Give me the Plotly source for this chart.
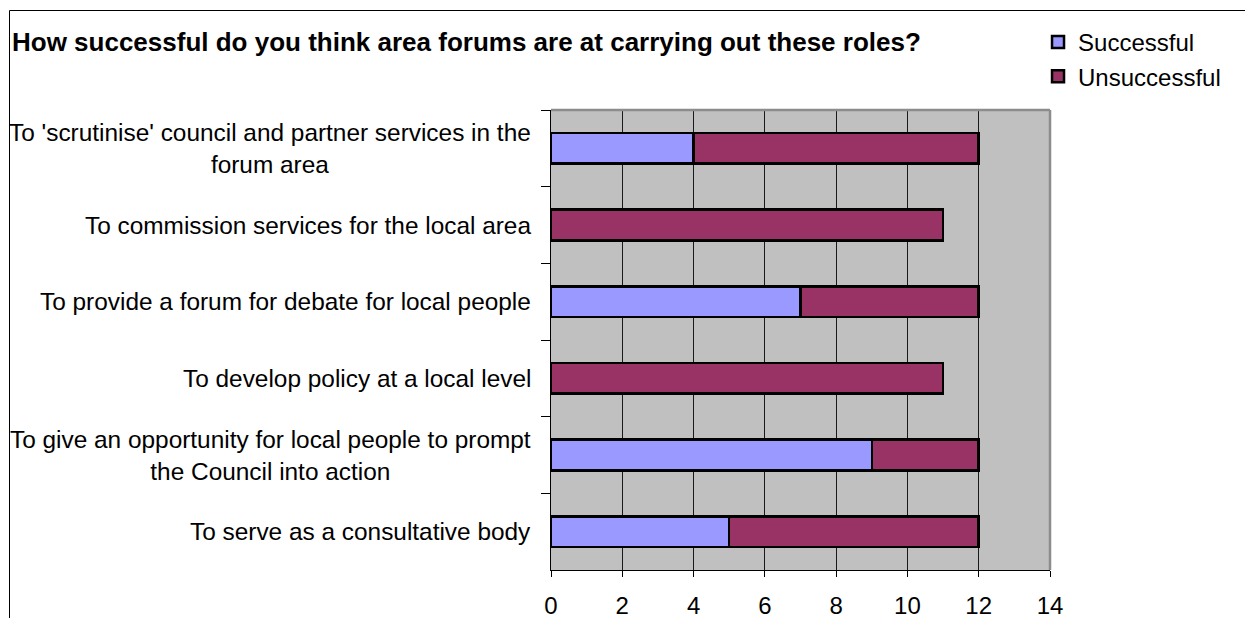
import plotly.graph_objects as go

categories = [
    "To 'scrutinise' council and partner services in the<br>forum area",
    "To commission services for the local area",
    "To provide a forum for debate for local people",
    "To develop policy at a local level",
    "To give an opportunity for local people to prompt<br>the Council into action",
    "To serve as a consultative body",
]
successful = [4, 0, 7, 0, 9, 5]
unsuccessful = [8, 11, 5, 11, 3, 7]
x_ticks = [0, 2, 4, 6, 8, 10, 12, 14]

FONT = "Arial, 'Liberation Sans', sans-serif"

fig = go.Figure()
fig.add_trace(go.Bar(
    y=categories, x=successful, name="Successful", orientation="h",
    marker=dict(color="#9999FF", line=dict(color="black", width=2.5)),
))
fig.add_trace(go.Bar(
    y=categories, x=unsuccessful, name="Unsuccessful", orientation="h",
    marker=dict(color="#993366", line=dict(color="black", width=2.5)),
))

annotations = []
for c in categories:
    annotations.append(dict(
        x=0, xref="paper", y=c, yref="y", text=c, showarrow=False,
        xanchor="right", yanchor="middle", align="center", xshift=-18,
        font=dict(family=FONT, size=24.4, color="black"),
    ))

fig.update_layout(
    width=1245, height=618,
    margin=dict(l=551, r=195, t=110, b=48, autoexpand=False),
    paper_bgcolor="white", plot_bgcolor="#C0C0C0",
    barmode="stack", bargap=0.6,
    font=dict(family=FONT, size=24, color="black"),
    title=dict(
        text="<b>How successful do you think area forums are at carrying out these roles?</b>",
        x=12 / 1245, xref="container", xanchor="left",
        y=1 - 42 / 618, yref="container", yanchor="middle",
        font=dict(family=FONT, size=26, color="black"),
    ),
    xaxis=dict(
        range=[0, 14], tickvals=x_ticks, ticktext=[str(v) for v in x_ticks],
        showgrid=True, gridcolor="#1a1a1a", gridwidth=1,
        zeroline=False, showline=True, linecolor="black", linewidth=1,
        ticks="outside", ticklen=6, tickcolor="black", tickwidth=1,
        ticklabelstandoff=8, automargin=False,
        tickfont=dict(family=FONT, size=24, color="black"),
    ),
    yaxis=dict(
        autorange="reversed", showticklabels=False, showgrid=False,
        showline=True, linecolor="black", linewidth=1, automargin=False,
        ticks="outside", tickson="boundaries", ticklen=9, tickcolor="black",
    ),
    legend=dict(
        x=0.976, xanchor="left", y=1.196, yanchor="top",
        traceorder="normal",
        font=dict(family=FONT, size=24, color="black"),
        bgcolor="rgba(0,0,0,0)", itemwidth=30, tracegroupgap=0,
    ),
    annotations=annotations,
    shapes=[
        dict(type="line", xref="paper", yref="paper", x0=0, x1=1, y0=1, y1=1,
             line=dict(color="#8c8c8c", width=2.5)),
        dict(type="line", xref="paper", yref="paper", x0=1, x1=1, y0=0, y1=1,
             line=dict(color="#8c8c8c", width=2.5)),
        dict(type="rect", xref="paper", yref="paper",
             x0=(9.5 - 551) / 499, x1=2, y0=-1, y1=(570 - 10.5) / 460,
             line=dict(color="black", width=1), fillcolor="rgba(0,0,0,0)"),
    ],
)

fig.write_html("out.html")
